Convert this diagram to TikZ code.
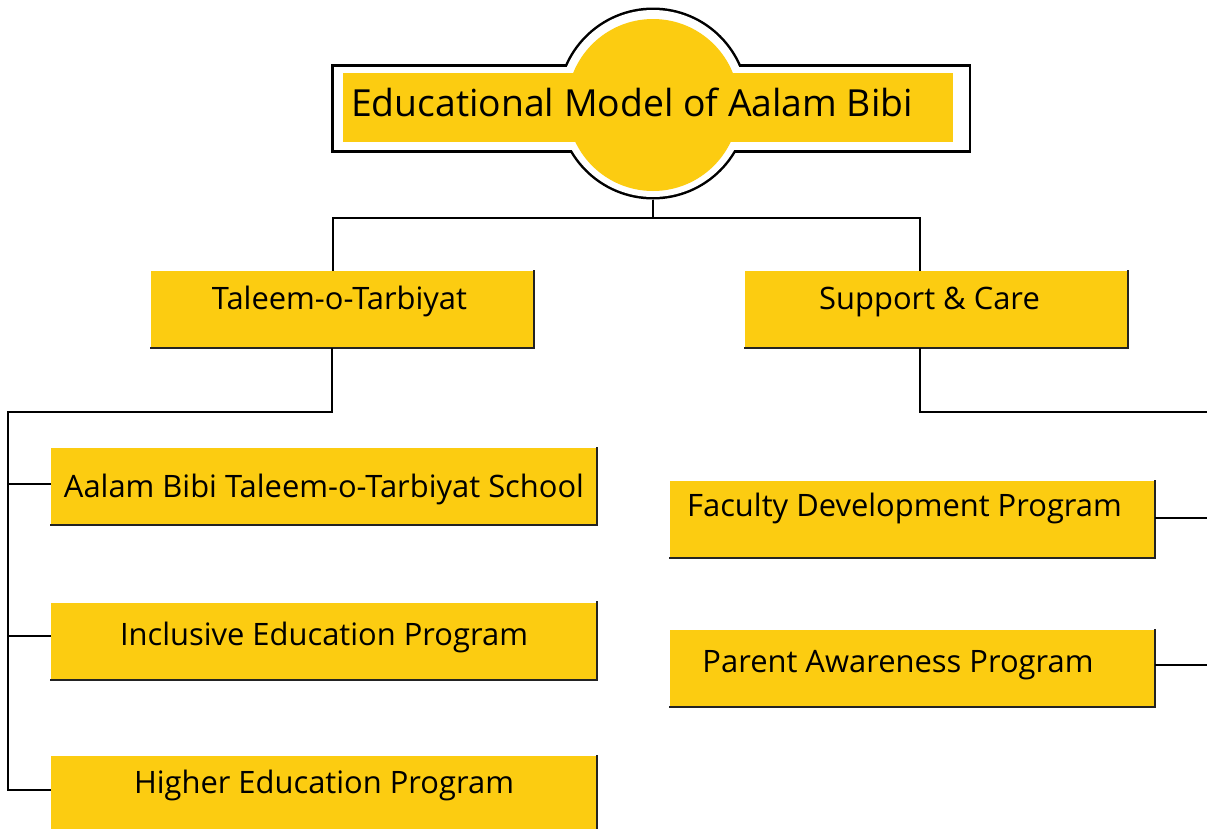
\documentclass[tikz,border=0pt]{standalone}
\usepackage{fontspec}
\setmainfont{Open Sans}
\definecolor{ylw}{RGB}{252,204,17}
\definecolor{edgec}{RGB}{35,35,35}
\begin{document}
\begin{tikzpicture}[x=1pt,y=-1pt,
  box/.style={rectangle, fill=ylw, draw=none, inner sep=0pt, minimum height=77pt,
    font=\fontsize{30.9}{36}\selectfont},
  conn/.style={draw=black, line width=2.4pt},
  shade/.style={draw=edgec, line width=2.4pt, line cap=rect}]
\useasboundingbox (0,0) rectangle (1207,828);

% ---- title shape ----
\node[circle, draw=black, line width=5pt, minimum size=187pt, inner sep=0pt] (ring) at (653,103.5) {};
\node[rectangle, draw=black, line width=5pt, minimum width=635pt, minimum height=84pt, inner sep=0pt] (frame) at (651,108) {};
\fill[white] (ring.center) circle (93.5pt);
\fill[white] (333.5,66.5) rectangle (968.5,149.5);
\node[circle, fill=ylw, minimum size=172pt, inner sep=0pt] (disc) at (653,105) {};
\node[rectangle, fill=ylw, minimum width=610pt, minimum height=69pt, inner sep=0pt,
  font=\fontsize{37.3}{42}\selectfont, text height=26pt, text depth=8pt] (title) at (648,107.5)
  {Educational Model of Aalam Bibi\hspace{32pt}\null};

% ---- level 1 ----
\node[box, minimum width=383pt, text height=20.2pt, text depth=19.8pt] (taleem) at (342.5,309.5) {Taleem-o-Tarbiyat\hspace{6pt}\null};
\node[box, minimum width=383pt, text height=20.2pt, text depth=19.8pt] (support) at (936.5,309.5) {Support \& Care\hspace{14pt}\null};

% ---- level 2 left ----
\node[box, minimum width=546pt, text height=30.7pt, text depth=9.3pt] (school) at (324,486.5) {Aalam Bibi Taleem-o-Tarbiyat School};
\node[box, minimum width=546pt, text height=24.7pt, text depth=15.3pt] (inclusive) at (324,641) {Inclusive Education Program};
\node[box, minimum width=546pt, minimum height=78pt, text height=18.7pt, text depth=21.3pt] (higher) at (324,795) {Higher Education Program};

% ---- level 2 right ----
\node[box, minimum width=485pt, text height=17.2pt, text depth=22.8pt] (faculty) at (912.5,519.5) {Faculty Development Program\hspace{16pt}\null};
\node[box, minimum width=485pt, text height=23.5pt, text depth=16.5pt] (parent) at (912.5,668.5) {Parent Awareness Program\hspace{29pt}\null};

% ---- box edges ----
\foreach \b in {taleem,support,school,inclusive,higher,faculty,parent}{
  \draw[shade] (\b.north east) -- (\b.south east) -- (\b.south west);
}

% ---- connectors ----
\coordinate (hub) at (653,218);
\coordinate (hubL) at (333,218);
\coordinate (hubR) at (920,218);
\draw[conn] (ring.south) -- (hub);
\draw[conn] (hubL |- taleem.north) -- (hubL) -- (hubR) -- (hubR |- support.north);

\coordinate (lt) at (332,412);
\coordinate (spine) at (8,412);
\coordinate (b1) at (8,484);
\coordinate (b2) at (8,636);
\coordinate (b3) at (8,790);
\draw[conn] (lt |- taleem.south) -- (lt) -- (spine) -- (b3) -- (b3 -| higher.west);
\draw[conn] (b1) -- (b1 -| school.west);
\draw[conn] (b2) -- (b2 -| inclusive.west);

\coordinate (rt) at (920,412);
\coordinate (rend) at (1210,412);
\draw[conn] (rt |- support.south) -- (rt) -- (rend);
\coordinate (r1) at (1210,518);
\coordinate (r2) at (1210,665);
\draw[conn] (r1 -| faculty.east) -- (r1);
\draw[conn] (r2 -| parent.east) -- (r2);
\end{tikzpicture}
\end{document}
